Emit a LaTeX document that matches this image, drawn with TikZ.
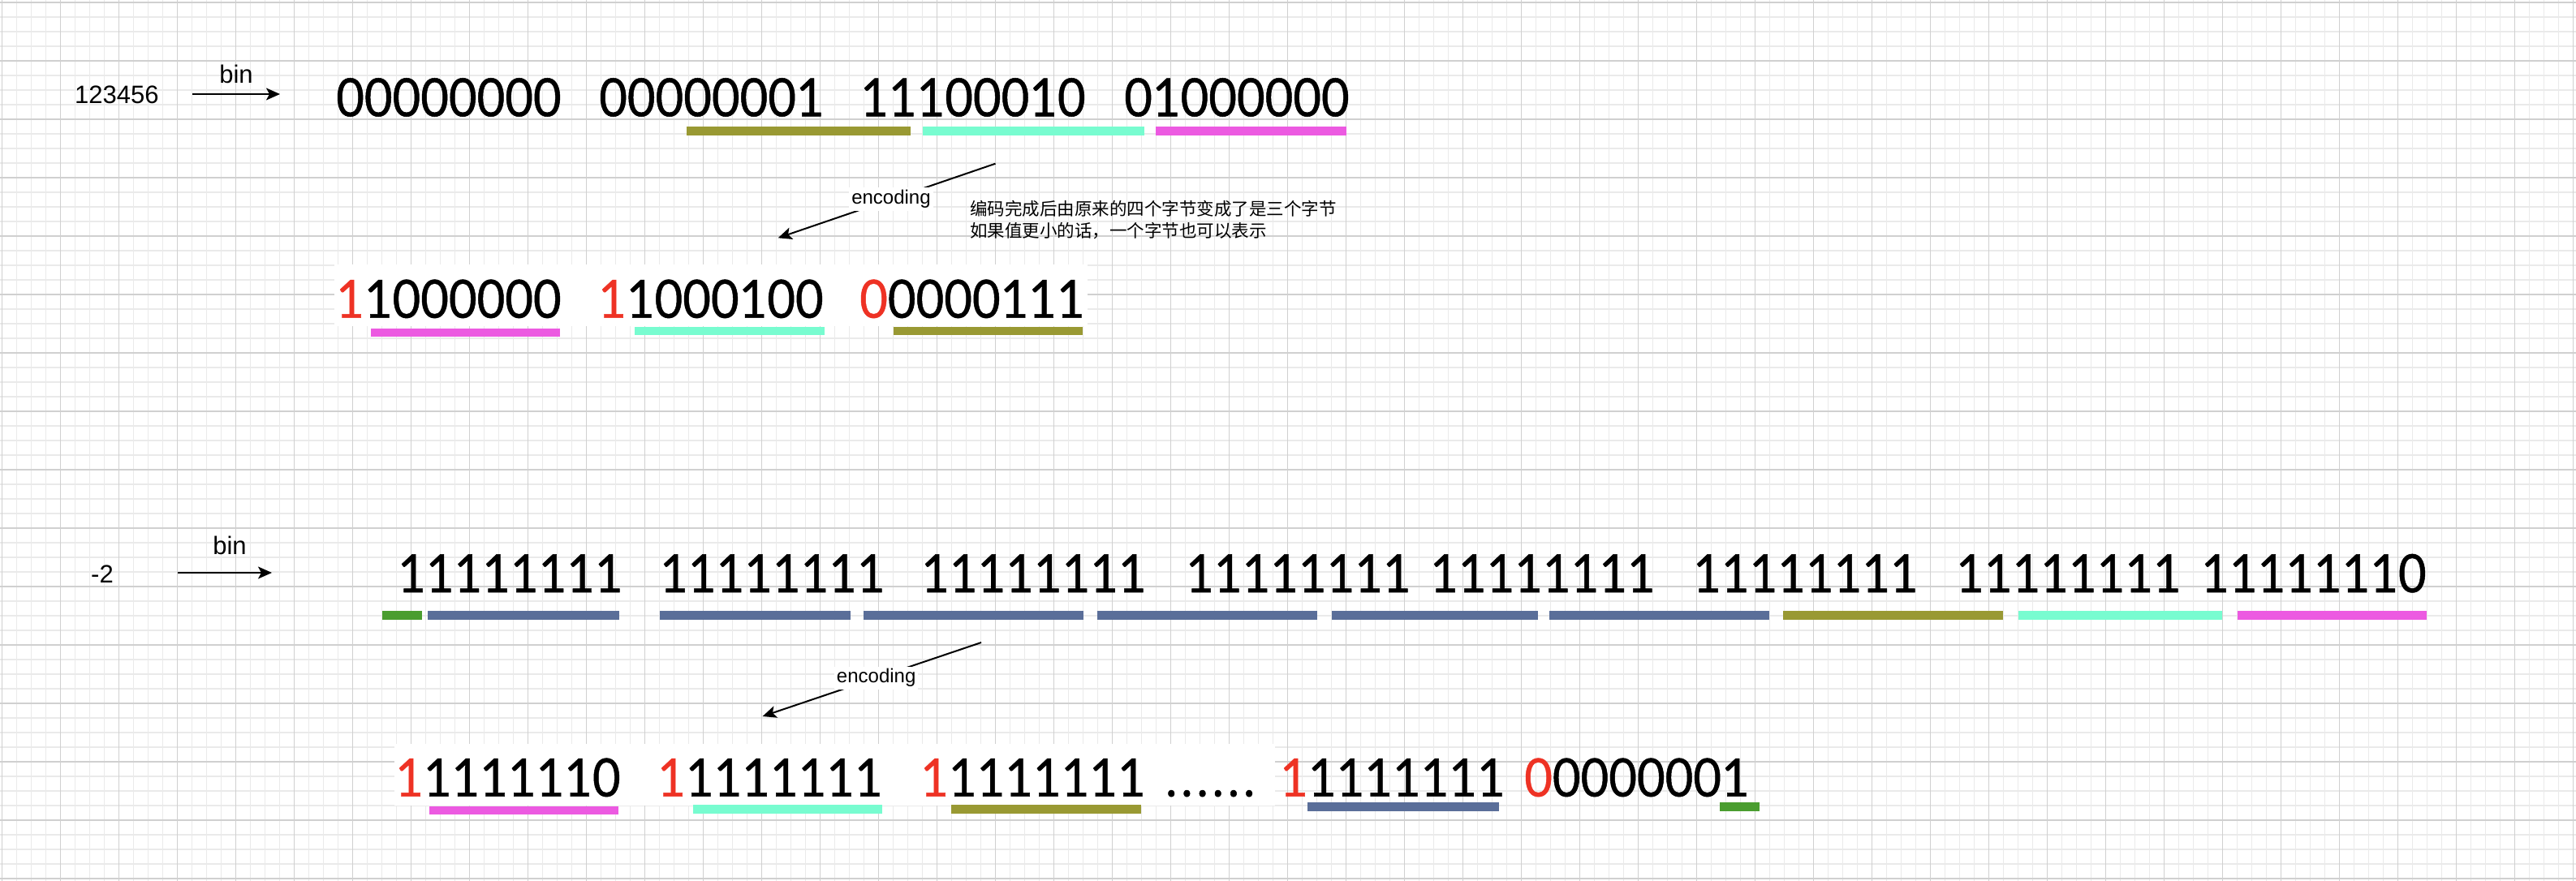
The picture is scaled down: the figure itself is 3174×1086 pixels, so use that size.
\documentclass[tikz,border=0pt]{standalone}
\usepackage{fontspec}
\usepackage{graphicx}
\setmainfont{Liberation Sans}
\newfontfamily\digfont[FakeBold=0.8]{Lato}
\newfontfamily\cjkfont{Noto Sans CJK SC}
\usetikzlibrary{arrows.meta}
\definecolor{olivebar}{RGB}{153,153,51}
\definecolor{cyanbar}{RGB}{120,252,208}
\definecolor{magbar}{RGB}{236,90,225}
\definecolor{bluebar}{RGB}{90,110,153}
\definecolor{greenbar}{RGB}{74,157,47}
\definecolor{bitred}{RGB}{238,50,36}
\definecolor{gridmajor}{RGB}{208,208,208}
\definecolor{gridminor}{RGB}{234,234,234}
\newcommand{\bits}[1]{{\digfont\fontsize{65}{70}\selectfont\scalebox{0.92}[1]{#1}}}
\newcommand{\rd}[1]{\textcolor{bitred}{#1}}
\begin{document}
\begin{tikzpicture}[x=1pt,y=-1pt,
  bitsn/.style={anchor=base west,inner sep=0pt},
  small/.style={font=\fontsize{31}{36}\selectfont,inner sep=0pt},
  lbl/.style={font=\fontsize{24}{28}\selectfont,fill=white,inner sep=3pt},
  cjk/.style={font=\cjkfont\fontsize{21.5}{26}\selectfont,anchor=base west,inner sep=0pt},
  arr/.style={line width=2pt,-{Stealth[length=17pt,width=15pt,inset=4pt]}}]
\useasboundingbox (0,0) rectangle (3174,1086);
\fill[white] (0,0) rectangle (3174,1086);
% grid
\foreach \i in {0,...,176} \draw[gridminor,line width=1.2pt] (2.7+18*\i,0) -- (2.7+18*\i,1086);
\foreach \j in {0,...,60} \draw[gridminor,line width=1.2pt] (0,3+18*\j) -- (3174,3+18*\j);
\foreach \i in {0,...,44} \draw[gridmajor,line width=1.2pt] (2.7+72*\i,0) -- (2.7+72*\i,1086);
\foreach \j in {0,...,15} \draw[gridmajor,line width=1.2pt] (0,3+72*\j) -- (3174,3+72*\j);

% ---------- top part ----------
\node[small,anchor=base west] (n1) at (92,128) {123456};
\coordinate (b1s) at (237,116);
\coordinate (b1e) at (345,116);
\draw[arr] (b1s) -- (b1e);
\node[small,anchor=base] (bin1) at (291,103) {bin};

\node[bitsn] (t1) at (414,143.3) {\bits{00000000}};
\node[bitsn] (t2) at (738,143.3) {\bits{00000001}};
\node[bitsn] (t3) at (1060,143.3) {\bits{11100010}};
\node[bitsn] (t4) at (1385,143.3) {\bits{01000000}};
\fill[olivebar] (846,156) rectangle (1122,167);
\fill[cyanbar] (1137,156) rectangle (1410,167);
\fill[magbar] (1424,156) rectangle (1659,167);

\coordinate (e1s) at (1226.5,201.7);
\coordinate (e1e) at (958.7,293.3);
\draw[arr] (e1s) -- node[lbl,pos=0.48] (enc1) {encoding} (e1e);
\node[cjk] (c1) at (1195,265.5) {编码完成后由原来的四个字节变成了是三个字节};
\node[cjk] (c2) at (1195,292) {如果值更小的话，一个字节也可以表示};

\fill[white] (412,326) rectangle (1340,402);
\node[bitsn] (m1) at (414,391.7) {\bits{\rd{1}1000000}};
\node[bitsn] (m2) at (737,391.7) {\bits{\rd{1}1000100}};
\node[bitsn] (m3) at (1059,391.7) {\bits{\rd{0}0000111}};
\fill[magbar] (457,405) rectangle (690,415);
\fill[cyanbar] (782,403) rectangle (1016,413);
\fill[olivebar] (1101,403) rectangle (1334,413);

% ---------- bottom part ----------
\node[small,anchor=base west] (n2) at (112,718) {-2};
\coordinate (b2s) at (219,706);
\coordinate (b2e) at (335,706);
\draw[arr] (b2s) -- (b2e);
\node[small,anchor=base] (bin2) at (283,683) {bin};

\node[bitsn] (u1) at (490,730) {\bits{11111111}};
\node[bitsn] (u2) at (813,730) {\bits{11111111}};
\node[bitsn] (u3) at (1135,730) {\bits{11111111}};
\node[bitsn] (u4) at (1461,730) {\bits{11111111}};
\node[bitsn] (u5) at (1762,730) {\bits{11111111}};
\node[bitsn] (u6) at (2086,730) {\bits{11111111}};
\node[bitsn] (u7) at (2410,730) {\bits{11111111}};
\node[bitsn] (u8) at (2712,730) {\bits{11111110}};
\fill[greenbar] (471,753) rectangle (520,764);
\fill[bluebar] (527,753) rectangle (763,764);
\fill[bluebar] (813,753) rectangle (1048,764);
\fill[bluebar] (1064,753) rectangle (1335,764);
\fill[bluebar] (1352,753) rectangle (1623,764);
\fill[bluebar] (1641,753) rectangle (1895,764);
\fill[bluebar] (1909,753) rectangle (2180,764);
\fill[olivebar] (2197,753) rectangle (2468,764);
\fill[cyanbar] (2487,753) rectangle (2738,764);
\fill[magbar] (2757,753) rectangle (2990,764);

\coordinate (e2s) at (1209,792);
\coordinate (e2e) at (939.6,883);
\draw[arr] (e2s) -- node[lbl,pos=0.48] (enc2) {encoding} (e2e);

\fill[white] (486,917) rectangle (1571,993);
\node[bitsn] (v1) at (487,981.7) {\bits{\rd{1}1111110}};
\node[bitsn] (v2) at (810,981.7) {\bits{\rd{1}1111111}};
\node[bitsn] (v3) at (1134,981.7) {\bits{\rd{1}1111111}};
\node[bitsn] (dots) at (1436,981.7) {\bits{.\hspace{5.5pt}.\hspace{5.5pt}.\hspace{5.5pt}.\hspace{5.5pt}.\hspace{5.5pt}.}};
\node[bitsn] (v4) at (1577,981.7) {\bits{\rd{1}1111111}};
\node[bitsn] (v5) at (1878,981.7) {\bits{\rd{0}0000001}};
\fill[magbar] (529,994) rectangle (762,1004);
\fill[cyanbar] (854,992) rectangle (1087,1003);
\fill[olivebar] (1172,992) rectangle (1406,1003);
\fill[bluebar] (1611,989) rectangle (1847,1000);
\fill[greenbar] (2119,989) rectangle (2168,1000);
\end{tikzpicture}
\end{document}
